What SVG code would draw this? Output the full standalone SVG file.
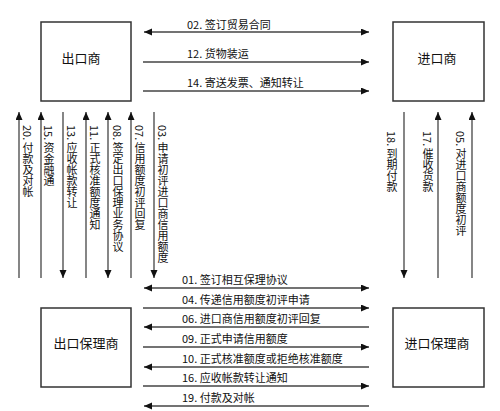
<svg xmlns="http://www.w3.org/2000/svg" width="500" height="411" viewBox="0 0 500 411">
<defs>
<marker id="ah" markerUnits="userSpaceOnUse" markerWidth="9" markerHeight="8" refX="8" refY="3.5" orient="auto-start-reverse" viewBox="0 0 9 8">
<path d="M0,0 L8,3.5 L0,7 z" fill="#111"/>
</marker>
<style>
.box{fill:#fff;stroke:#333;stroke-width:1.5}
.bt{font-family:"Noto Sans CJK SC","Liberation Sans",sans-serif;font-size:13px;fill:#111;text-anchor:middle}
.lb{font-family:"Noto Sans CJK SC","Liberation Sans",sans-serif;font-size:11px;fill:#111}
.vt{font-family:"Noto Sans CJK SC","Liberation Sans",sans-serif;font-size:11px;fill:#111;writing-mode:vertical-rl;text-orientation:mixed}
.ln{stroke:#444;stroke-width:1.3;fill:none}
</style>
</defs>
<rect width="500" height="411" fill="#fff"/>
<g id="exporter"><rect class="box" x="41" y="22" width="90" height="79"/><text class="bt" x="81" y="63">出口商</text></g>
<g id="importer"><rect class="box" x="393" y="22" width="91" height="79"/><text class="bt" x="437" y="63">进口商</text></g>
<g id="export-factor"><rect class="box" x="41" y="308" width="90" height="79"/><text class="bt" x="86" y="348">出口保理商</text></g>
<g id="import-factor"><rect class="box" x="393" y="308" width="91" height="79"/><text class="bt" x="437" y="348">进口保理商</text></g>
<g id="connectors">
<line class="ln" x1="144" y1="32" x2="369" y2="32" marker-start="url(#ah)" marker-end="url(#ah)"/>
<line class="ln" x1="143" y1="62" x2="369" y2="62" marker-end="url(#ah)"/>
<line class="ln" x1="143" y1="91" x2="369" y2="91" marker-end="url(#ah)"/>
<line class="ln" x1="19" y1="112" x2="19" y2="278" marker-start="url(#ah)"/>
<line class="ln" x1="41" y1="112" x2="41" y2="278" marker-start="url(#ah)"/>
<line class="ln" x1="63" y1="112" x2="63" y2="278" marker-end="url(#ah)"/>
<line class="ln" x1="86" y1="112" x2="86" y2="278" marker-start="url(#ah)"/>
<line class="ln" x1="108" y1="112" x2="108" y2="278" marker-start="url(#ah)" marker-end="url(#ah)"/>
<line class="ln" x1="131" y1="112" x2="131" y2="278" marker-start="url(#ah)"/>
<line class="ln" x1="154" y1="112" x2="154" y2="278" marker-end="url(#ah)"/>
<line class="ln" x1="404" y1="112" x2="404" y2="278" marker-end="url(#ah)"/>
<line class="ln" x1="438" y1="112" x2="438" y2="278" marker-start="url(#ah)"/>
<line class="ln" x1="472" y1="112" x2="472" y2="278" marker-start="url(#ah)"/>
<line class="ln" x1="144" y1="288" x2="369" y2="288" marker-start="url(#ah)" marker-end="url(#ah)"/>
<line class="ln" x1="143" y1="308" x2="369" y2="308" marker-end="url(#ah)"/>
<line class="ln" x1="144" y1="327" x2="369" y2="327" marker-start="url(#ah)"/>
<line class="ln" x1="143" y1="347" x2="369" y2="347" marker-end="url(#ah)"/>
<line class="ln" x1="144" y1="367" x2="369" y2="367" marker-start="url(#ah)"/>
<line class="ln" x1="143" y1="386" x2="369" y2="386" marker-end="url(#ah)"/>
<line class="ln" x1="144" y1="406" x2="369" y2="406" marker-start="url(#ah)"/>
</g>
<g id="labels">
<text class="lb" x="187" y="29">02. 签订贸易合同</text>
<text class="lb" x="187" y="58">12. 货物装运</text>
<text class="lb" x="187" y="87">14. 寄送发票、通知转让</text>
<text class="lb" x="182" y="284">01. 签订相互保理协议</text>
<text class="lb" x="182" y="304">04. 传递信用额度初评申请</text>
<text class="lb" x="182" y="323">06. 进口商信用额度初评回复</text>
<text class="lb" x="182" y="343">09. 正式申请信用额度</text>
<text class="lb" x="182" y="363">10. 正式核准额度或拒绝核准额度</text>
<text class="lb" x="182" y="382">16. 应收帐款转让通知</text>
<text class="lb" x="182" y="402">19. 付款及对帐</text>
<text class="vt" x="28" y="125">20. 付款及对帐</text>
<text class="vt" x="49" y="125">15. 资金融通</text>
<text class="vt" x="72" y="125">13. 应收帐款转让</text>
<text class="vt" x="95" y="125">11. 正式核准额度通知</text>
<text class="vt" x="118" y="125">08. 签定出口保理业务协议</text>
<text class="vt" x="140" y="125">07. 信用额度初评回复</text>
<text class="vt" x="163" y="125">03. 申请初评进口商信用额度</text>
<text class="vt" x="392" y="131">18. 到期付款</text>
<text class="vt" x="428" y="131">17. 催收货款</text>
<text class="vt" x="461" y="131">05. 对进口商额度初评</text>
</g>
</svg>
